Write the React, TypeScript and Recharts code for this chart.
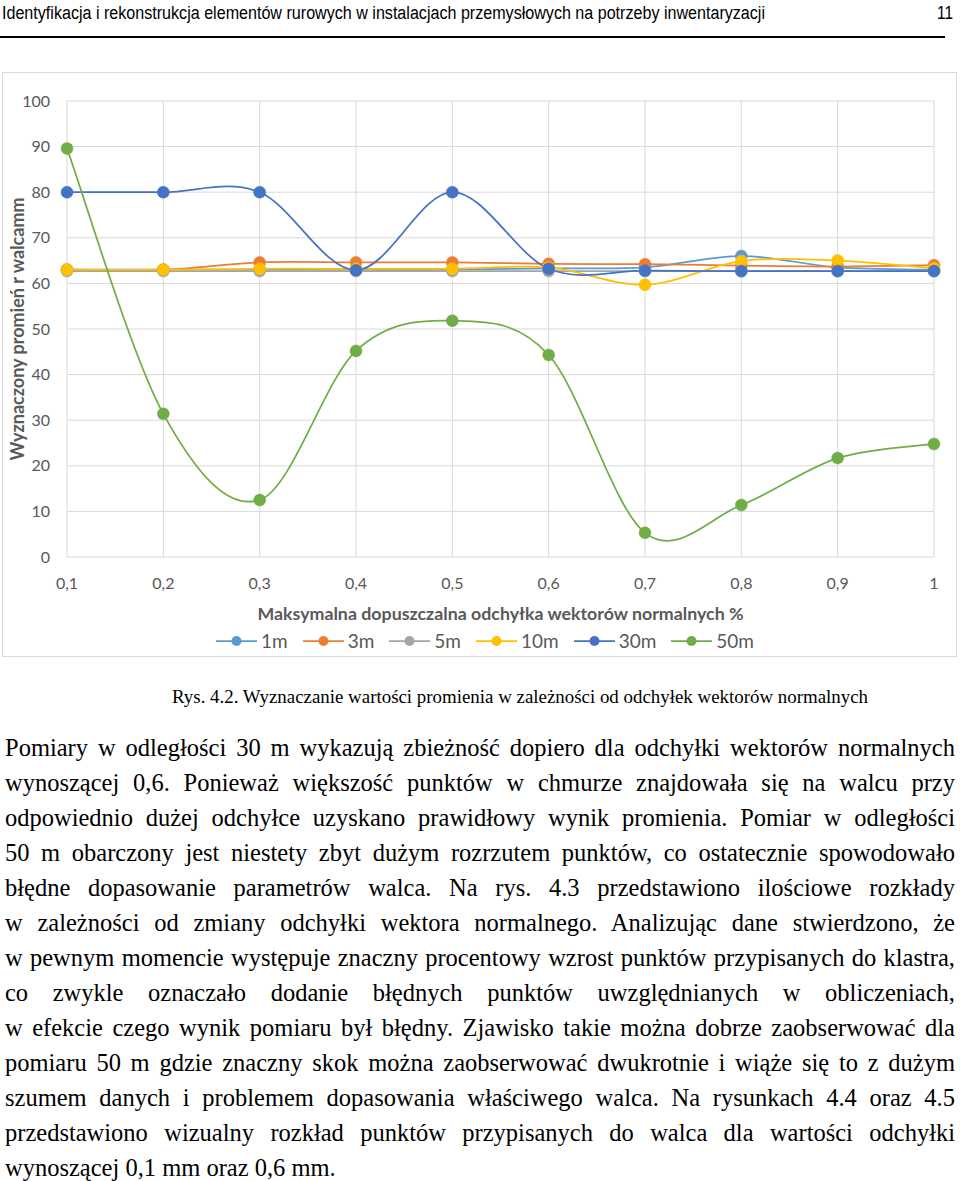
import React from 'react';
import { LineChart, Line, XAxis, YAxis, CartesianGrid, Legend, Label } from 'recharts';

const categories = ['0,1', '0,2', '0,3', '0,4', '0,5', '0,6', '0,7', '0,8', '0,9', '1'];
const s1m = [63, 63, 63, 63, 63, 63.3, 63.5, 66, 63.5, 63];
const s3m = [63, 63, 64.6, 64.6, 64.6, 64.3, 64.2, 63.9, 63.7, 64];
const s5m = [62.7, 62.7, 62.7, 62.7, 62.7, 62.7, 62.7, 62.7, 62.7, 62.7];
const s10m = [63, 63, 63.2, 63.2, 63.2, 63.5, 59.7, 64.9, 65, 63.3];
const s30m = [80, 80, 80, 62.9, 80, 63.2, 62.8, 62.7, 62.7, 62.7];
const s50m = [89.6, 31.4, 12.5, 45.2, 51.8, 44.3, 5.3, 11.4, 21.7, 24.8];
const yTicks = [0, 10, 20, 30, 40, 50, 60, 70, 80, 90, 100];

const series = [
  { key: 's1m', name: '1m', values: s1m, color: '#5b9bd5' },
  { key: 's3m', name: '3m', values: s3m, color: '#ed7d31' },
  { key: 's5m', name: '5m', values: s5m, color: '#a5a5a5' },
  { key: 's10m', name: '10m', values: s10m, color: '#ffc000' },
  { key: 's30m', name: '30m', values: s30m, color: '#4472c4' },
  { key: 's50m', name: '50m', values: s50m, color: '#70ad47' },
];

const data = categories.map((c, i) => {
  const row: any = { x: c };
  series.forEach((s) => { row[s.key] = s.values[i]; });
  return row;
});

const bodyLines = [
  'Pomiary w odległości 30 m wykazują zbieżność dopiero dla odchyłki wektorów normalnych',
  'wynoszącej 0,6. Ponieważ większość punktów w chmurze znajdowała się na walcu przy',
  'odpowiednio dużej odchyłce uzyskano prawidłowy wynik promienia. Pomiar w odległości',
  '50 m obarczony jest niestety zbyt dużym rozrzutem punktów, co ostatecznie spowodowało',
  'błędne dopasowanie parametrów walca. Na rys. 4.3 przedstawiono ilościowe rozkłady',
  'w zależności od zmiany odchyłki wektora normalnego. Analizując dane stwierdzono, że',
  'w pewnym momencie występuje znaczny procentowy wzrost punktów przypisanych do klastra,',
  'co zwykle oznaczało dodanie błędnych punktów uwzględnianych w obliczeniach,',
  'w efekcie czego wynik pomiaru był błędny. Zjawisko takie można dobrze zaobserwować dla',
  'pomiaru 50 m gdzie znaczny skok można zaobserwować dwukrotnie i wiąże się to z dużym',
  'szumem danych i problemem dopasowania właściwego walca. Na rysunkach 4.4 oraz 4.5',
  'przedstawiono wizualny rozkład punktów przypisanych do walca dla wartości odchyłki',
  'wynoszącej 0,1 mm oraz 0,6 mm.',
];

// smoothed line like the spreadsheet one (catmull-rom through the points)
const smoothCurve = (context: any) => {
  let pts: number[][] = [];
  return {
    areaStart() {},
    areaEnd() {},
    lineStart() { pts = []; },
    point(x: number, y: number) { pts.push([+x, +y]); },
    lineEnd() {
      if (!pts.length) return;
      context.moveTo(pts[0][0], pts[0][1]);
      const t = 1 / 6;
      for (let i = 0; i < pts.length - 1; i++) {
        const p0 = pts[i - 1] || pts[i];
        const p1 = pts[i];
        const p2 = pts[i + 1];
        const p3 = pts[i + 2] || p2;
        context.bezierCurveTo(
          p1[0] + (p2[0] - p0[0]) * t, p1[1] + (p2[1] - p0[1]) * t,
          p2[0] - (p3[0] - p1[0]) * t, p2[1] - (p3[1] - p1[1]) * t,
          p2[0], p2[1]
        );
      }
    },
  };
};

const axisFont = 'Lato, "Open Sans", sans-serif';

const LegendContent = () => (
  <div style={{ display: 'flex', justifyContent: 'center', gap: 15, paddingTop: 5, marginLeft: 29, fontFamily: axisFont, fontSize: 19, color: '#595959' }}>
    {series.map((s) => (
      <div key={s.key} style={{ display: 'flex', alignItems: 'center', gap: 4 }}>
        <svg width={41} height={14}>
          <line x1={0} y1={7} x2={41} y2={7} stroke={s.color} strokeWidth={1.75} />
          <circle cx={20.5} cy={7} r={5} fill={s.color} />
        </svg>
        <span>{s.name}</span>
      </div>
    ))}
  </div>
);

const YTitle = (props: any) => {
  const vb = props.viewBox || { x: 5, y: 29, width: 60, height: 456 };
  const cx = vb.x + 10;
  const cy = vb.y + vb.height / 2;
  return (
    <text x={cx} y={cy} transform={`rotate(-90 ${cx} ${cy})`} textAnchor="middle" dominantBaseline="central"
      fill="#595959" fontFamily={axisFont} fontSize={18} fontWeight="bold">
      Wyznaczony promień r walcamm
    </text>
  );
};

export default function App() {
  return (
    <div style={{ position: 'absolute', left: 0, top: 0, width: 960, height: 1181, background: '#fff', overflow: 'hidden' }}>
      <svg width={960} height={40} style={{ position: 'absolute', left: 0, top: 0 }}>
        <text x={2} y={19} fontFamily='"Liberation Sans", Arial, sans-serif' fontSize={18} textLength={763} lengthAdjust="spacingAndGlyphs" fill="#000">
          Identyfikacja i rekonstrukcja elementów rurowych w instalacjach przemysłowych na potrzeby inwentaryzacji
        </text>
        <text x={953} y={19} textAnchor="end" fontFamily='"Liberation Sans", Arial, sans-serif' fontSize={18} textLength={16} lengthAdjust="spacingAndGlyphs" fill="#000">11</text>
        <line x1={0} y1={37} x2={945} y2={37} stroke="#000" strokeWidth={2} />
      </svg>

      <div style={{ position: 'absolute', left: 2, top: 72, width: 955, height: 585, border: '1px solid #d9d9d9', boxSizing: 'border-box' }}>
        <LineChart width={953} height={583} data={data} margin={{ top: 28, right: 22, left: 4, bottom: 4 }}>
          <CartesianGrid stroke="#d9d9d9" strokeWidth={1} />
          <XAxis dataKey="x" axisLine={false} tickLine={false} tickSize={6} tickMargin={15} height={67}
            tick={{ fill: '#595959', fontSize: 16, fontFamily: axisFont }} interval={0}>
            <Label value="Maksymalna dopuszczalna odchyłka wektorów normalnych %" position="insideBottom" offset={4}
              style={{ fill: '#595959', fontSize: 17.8, fontWeight: 'bold', fontFamily: axisFont }} />
          </XAxis>
          <YAxis type="number" domain={[0, 100]} ticks={yTicks} axisLine={false} tickLine={false} width={60}
            tickSize={0} tickMargin={17} tick={{ fill: '#595959', fontSize: 16, fontFamily: axisFont }}>
            <Label content={<YTitle />} />
          </YAxis>
          <Legend verticalAlign="bottom" height={28} content={<LegendContent />} />
          {series.map((s) => (
            <Line key={s.key} dataKey={s.key} name={s.name} type={smoothCurve as any} stroke={s.color} strokeWidth={1.75}
              dot={{ r: 6, fill: s.color, stroke: s.color, strokeWidth: 0.5 }} activeDot={false} isAnimationActive={false} />
          ))}
        </LineChart>
      </div>

      <svg width={960} height={30} style={{ position: 'absolute', left: 0, top: 684 }}>
        <text x={172} y={19} fontFamily='"Liberation Serif", "Times New Roman", serif' fontSize={19} textLength={696} lengthAdjust="spacingAndGlyphs" fill="#000">
          Rys. 4.2. Wyznaczanie wartości promienia w zależności od odchyłek wektorów normalnych
        </text>
      </svg>

      <div style={{ position: 'absolute', left: 5, top: 730, width: 950, fontFamily: '"Liberation Serif", "Times New Roman", serif', fontSize: 24.5, lineHeight: '35px', color: '#000' }}>
        {bodyLines.map((l, i) => {
          const last = i === bodyLines.length - 1;
          return (
            <div key={i} style={{ textAlign: last ? 'left' : 'justify', textAlignLast: last ? 'left' : 'justify', wordSpacing: last ? 0 : -5, whiteSpace: 'normal' }}>
              {l}
            </div>
          );
        })}
      </div>
    </div>
  );
}
